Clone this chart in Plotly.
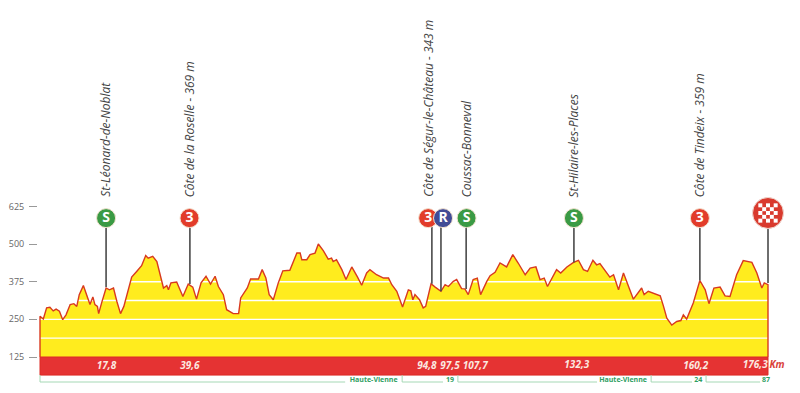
import plotly.graph_objects as go

# Profile (schematic km along the drawn axis, elevation in m)
profile_km = [0,0.8,1.6,2.4,3.2,3.9,4.7,5.5,6.3,7.3,8.2,8.9,9.5,10.5,11.5,12.1,12.8,13.3,13.9,14.2,14.9,16.0,16.8,17.8,18.6,19.5,20.3,21.2,22.2,23.4,24.6,25.6,26.2,27.3,28.3,29.9,30.7,31.1,31.7,33.1,34.6,35.9,37.0,37.9,39.0,40.2,41.3,42.4,43.2,44.4,45.2,46.8,48.1,48.6,50.2,51.0,52.9,53.8,54.7,55.5,
 56.5,57.7,58.8,60.5,62.2,63.0,63.4,64.6,65.4,66.6,67.4,68.6,69.8,70.6,71.0,71.8,73.1,74.1,75.5,76.9,77.9,79.1,79.9,81.5,83.2,84.4,85.2,86.4,87.8,89.2,89.8,90.3,90.8,91.9,92.8,93.4,94.7,95.7,97.1,98.1,98.9,100.1,100.9,102.1,102.9,103.7,104.9,105.9,106.7,108.2,109.0,110.2,111.4,113.0,114.5,115.8,117.5,118.7,120.1,121.1,
 122.1,122.9,123.9,125.1,126.1,127.6,129.2,130.4,131.6,132.6,133.9,134.8,135.6,138.0,138.9,140.1,141.3,142.5,143.7,145.7,146.3,147.3,150.2,151.0,151.8,153.0,154.2,155.2,155.8,156.6,158.2,159.8,161.1,162.0,163.2,164.7,165.9,167.1,168.7,170.3,172.4,173.6,174.8,175.4,176.3]
profile_elev = [260,251,288,290,278,284,277,249,265,299,302,293,332,362,326,299,324,299,293,269,304,354,348,354,310,269,293,337,390,409,428,462,453,459,442,354,362,348,371,374,326,367,357,317,371,393,367,393,359,332,282,269,269,321,354,384,384,415,387,332,
 315,371,411,413,470,470,448,448,465,470,500,478,450,453,442,448,415,382,424,390,363,404,415,398,387,387,365,343,291,348,345,315,332,315,288,293,368,357,343,365,359,376,382,352,351,332,382,387,332,376,395,406,437,424,465,437,398,420,424,382,
 387,359,387,415,404,424,439,446,415,409,446,431,435,390,398,348,404,359,317,354,332,343,328,293,254,231,243,246,265,251,304,379,348,302,354,357,328,326,398,445,439,404,354,371,365]

total_km = 176.3
base_elev = 125
band_bottom = 65
white_lines = [187.5, 250, 312.5, 375]
y_ticks = [125, 250, 375, 500, 625]

# Climbs and checkpoints
point_names = ["St-Léonard-de-Noblat", "Côte de la Roselle - 369 m", "Côte de Ségur-le-Château - 343 m",
               "Coussac-Bonneval", "St-Hilaire-les-Places", "Côte de Tindeix - 359 m"]
name_km = [16.0, 36.1, 94.0, 103.3, 129.3, 159.6]
marker_km = [16.0, 36.2, 94.0, 97.6, 103.3, 129.3, 159.8]
marker_text = ["S", "3", "3", "R", "S", "S", "3"]
marker_color = ["#3A9A44", "#E23C2A", "#E23C2A", "#414C96", "#3A9A44", "#3A9A44", "#E23C2A"]
marker_elev = 586
stem_km = [16.0, 36.3, 94.9, 97.1, 103.2, 129.3, 159.8, 176.3]
stem_foot = [357, 367, 368, 343, 351, 439, 379, 371]
finish_elev = 603

# Distance labels
dist_labels = ["17,8", "39,6", "94,8", "97,5", "107,7", "132,3", "160,2", "176,3"]
dist_km = [16.1, 36.3, 93.7, 99.3, 105.4, 130.0, 158.8, 173.2]
dist_elev = [92, 92, 92, 92, 92, 98, 92, 98]

# Departments
dept_starts = [0, 87.7, 101.2, 148.0, 161.3]
dept_ends = [73.9, 97.6, 134.9, 157.9, 174.4]
dept_names = ["Haute-Vienne", "19", "Haute-Vienne", "24", "87"]
dept_label_km = [80.8, 99.3, 141.2, 159.4, 175.8]
dept_line_elev = 42
dept_tick_top = 65
dept_label_elev = 49

YELLOW, RED, LINE = "#FFEC1E", "#E53333", "#D8391F"
GREEN_LINE, GREEN_TEXT = "#A5D8B5", "#2F9E62"
FONT = "Open Sans"

fig = go.Figure()

# yellow fill
fig.add_trace(go.Scatter(x=[0, total_km], y=[base_elev, base_elev], mode="lines", line=dict(width=0), showlegend=False))
fig.add_trace(go.Scatter(x=profile_km, y=profile_elev, mode="lines", line=dict(width=0),
                         fill="tonexty", fillcolor=YELLOW, showlegend=False))
# white level lines
wx, wy = [], []
for v in white_lines:
    wx += [0, total_km, None]
    wy += [v, v, None]
fig.add_trace(go.Scatter(x=wx, y=wy, mode="lines", line=dict(color="#FFFFFF", width=1.4), showlegend=False))
# profile outline
fig.add_trace(go.Scatter(x=[0] + profile_km + [total_km], y=[base_elev] + profile_elev + [base_elev],
                         mode="lines", line=dict(color=LINE, width=1.4), showlegend=False))
# red band
fig.add_trace(go.Scatter(x=[0, total_km, total_km, 0, 0],
                         y=[band_bottom, band_bottom, base_elev, base_elev, band_bottom],
                         mode="lines", fill="toself", fillcolor=RED, line=dict(color="#DD2A25", width=1), showlegend=False))
# stems
sx, sy = [], []
for k, f in zip(stem_km, stem_foot):
    sx += [k, k, None]
    sy += [f, finish_elev if k == total_km else marker_elev, None]
fig.add_trace(go.Scatter(x=sx, y=sy, mode="lines", line=dict(color="#4A4A4A", width=1.6), showlegend=False))
# markers
fig.add_trace(go.Scatter(x=marker_km, y=[marker_elev] * len(marker_km), mode="markers+text",
                         text=marker_text, textposition="middle center",
                         textfont=dict(family="Open Sans", size=14, color="white", weight="bold"),
                         marker=dict(size=19, color=marker_color, line=dict(color="#F4E3D0", width=1)),
                         showlegend=False))
# finish marker with checker pattern
fig.add_trace(go.Scatter(x=[total_km], y=[finish_elev], mode="markers",
                         marker=dict(size=31, color="#D93A2E", line=dict(color="#F0D8D0", width=1)), showlegend=False))
step_km, step_elev = 0.93, 12.7
cx, cy = [], []
for i in range(-3, 4):
    for j in range(-3, 4):
        if (i + j) % 2 == 0 and i * i + j * j <= 8:
            cx.append(total_km + i * step_km)
            cy.append(finish_elev + j * step_elev)
fig.add_trace(go.Scatter(x=cx, y=cy, mode="markers", marker=dict(symbol="square", size=4, color="white"), showlegend=False))
# distance labels
fig.add_trace(go.Scatter(x=dist_km, y=dist_elev, mode="text", text=dist_labels, textposition="middle center",
                         textfont=dict(family=FONT, size=10, color="#FBE9E0", weight="bold", style="italic"), showlegend=False))
fig.add_trace(go.Scatter(x=[total_km + 2.2], y=[96], mode="text", text=["Km"], textposition="middle center",
                         textfont=dict(family=FONT, size=10, color="#D9423A", weight="bold", style="italic"), showlegend=False))
# department lines
dx, dy = [], []
for a, b in zip(dept_starts, dept_ends):
    dx += [a, a, b, None]
    dy += [dept_tick_top, dept_line_elev, dept_line_elev, None]
fig.add_trace(go.Scatter(x=dx, y=dy, mode="lines", line=dict(color=GREEN_LINE, width=1), showlegend=False))
fig.add_trace(go.Scatter(x=dept_label_km, y=[dept_label_elev] * len(dept_names), mode="text", text=dept_names,
                         textposition="middle center",
                         textfont=dict(family=FONT, size=7, color=GREEN_TEXT, weight="bold"), showlegend=False))

# rotated place names
for name, k in zip(point_names, name_km):
    fig.add_annotation(x=k, y=649, text=name, textangle=-90, showarrow=False, yanchor="bottom",
                       xanchor="center", font=dict(family=FONT, size=12, color="#444444", style="italic"))

fig.update_layout(
    width=800, height=393, margin=dict(l=0, r=0, t=0, b=0),
    paper_bgcolor="white", plot_bgcolor="white", showlegend=False,
    xaxis=dict(range=[-9.69, 184.05], visible=False, domain=[0, 1]),
    yaxis=dict(range=[5.5, 1310], showgrid=False, zeroline=False, showline=False, anchor="free", position=0.04625,
               tickmode="array", tickvals=y_ticks, ticktext=[str(v) for v in y_ticks], ticks="outside", ticklen=8,
               tickcolor="#999999", tickwidth=1, ticklabelstandoff=3,
               tickfont=dict(family=FONT, size=9, color="#666666")),
)
fig.write_html("out.html", config={"displayModeBar": False},
               post_script="document.body.style.margin='0';window.dispatchEvent(new Event('resize'));")
